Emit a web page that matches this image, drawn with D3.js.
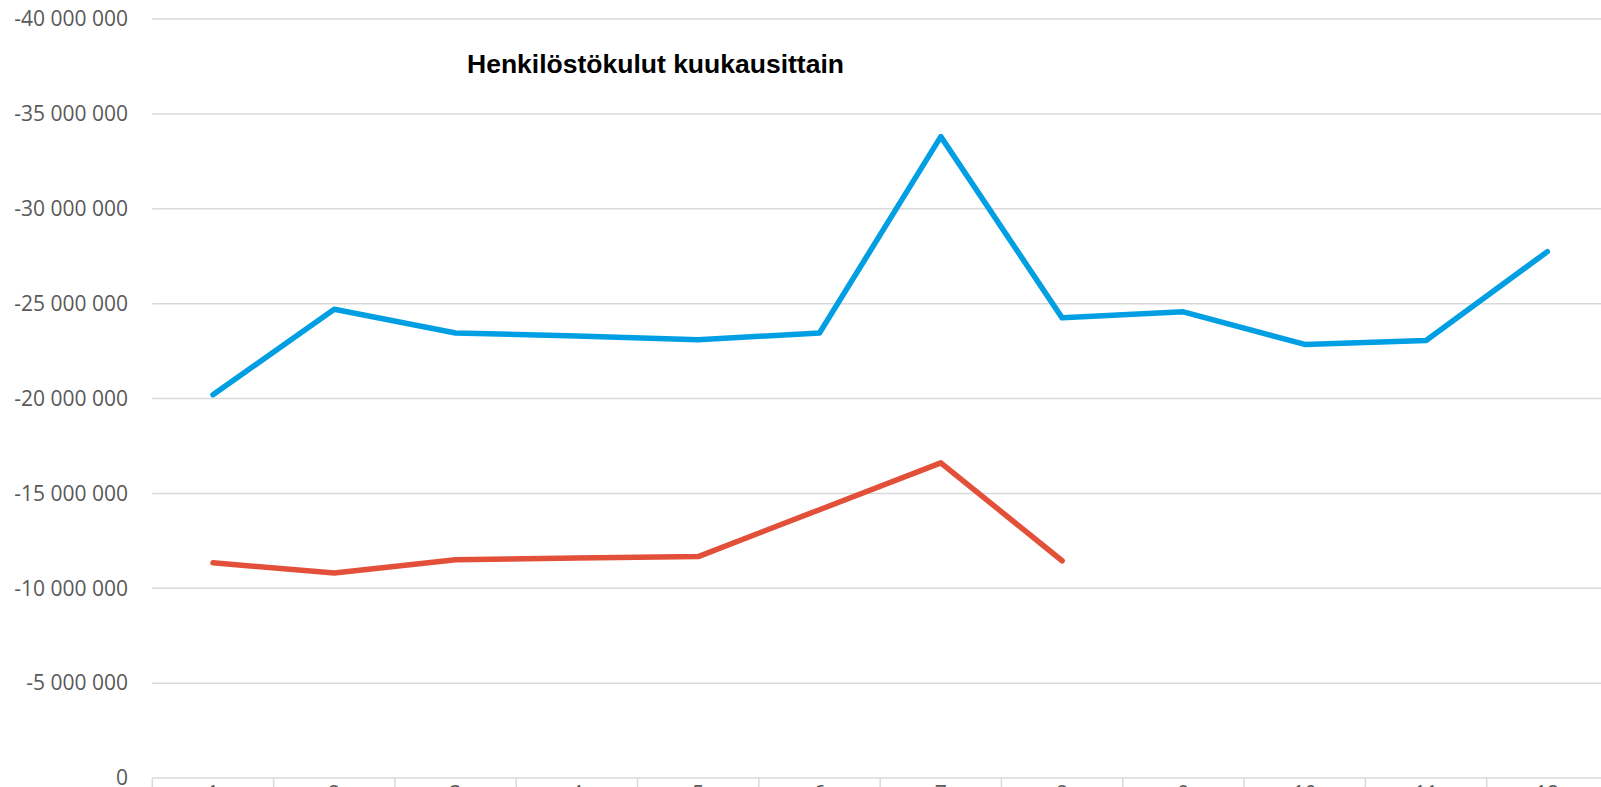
<!DOCTYPE html>
<html>
<head>
<meta charset="utf-8">
<script src="https://cdn.jsdelivr.net/npm/d3@7"></script>
<style>
  body { margin: 0; background: #fff; overflow: hidden; }
  svg { display: block; }
</style>
</head>
<body>
<div id="chart"></div>
<script>
const months = ['1', '2', '3', '4', '5', '6', '7', '8', '9', '10', '11', '12'];
const blueValues = [-20200000, -24700000, -23450000, -23300000, -23100000, -23450000,
                    -33800000, -24250000, -24570000, -22850000, -23060000, -27740000];
const redValues = [-11340000, -10800000, -11500000, -11600000, -11670000, -14140000,
                   -16610000, -11450000];
const yTicks = [0, -5000000, -10000000, -15000000, -20000000, -25000000,
                -30000000, -35000000, -40000000];
const title = 'Henkilöstökulut kuukausittain';

const width = 1601, height = 787;
const plot = { left: 152.3, right: 1608, top: 19, bottom: 778 };

const svg = d3.select('#chart').append('svg')
    .attr('width', width)
    .attr('height', height);

const x = d3.scaleBand()
    .domain(months)
    .range([plot.left, plot.right]);

const y = d3.scaleLinear()
    .domain([0, -40000000])
    .range([plot.bottom, plot.top]);

const fmt = v => v === 0 ? '0' : d3.format(',')(v).replace(/,/g, ' ').replace('−', '-');

// gridlines
svg.append('g')
    .selectAll('line')
    .data(yTicks)
    .enter()
    .append('line')
    .attr('x1', plot.left)
    .attr('x2', width)
    .attr('y1', d => y(d))
    .attr('y2', d => y(d))
    .attr('stroke', '#d9d9d9')
    .attr('stroke-width', 1.5);

// y labels
svg.append('g')
    .selectAll('text')
    .data(yTicks)
    .enter()
    .append('text')
    .attr('x', 128)
    .attr('y', d => y(d))
    .attr('dy', '0.35em')
    .attr('text-anchor', 'end')
    .attr('font-family', 'Open Sans, sans-serif')
    .attr('font-size', 21)
    .attr('fill', '#595959')
    .text(d => fmt(d));

// category tick marks
const bounds = months.map(m => x(m)).concat([plot.right]);
svg.append('g')
    .selectAll('line')
    .data(bounds)
    .enter()
    .append('line')
    .attr('x1', d => d)
    .attr('x2', d => d)
    .attr('y1', plot.bottom)
    .attr('y2', height)
    .attr('stroke', '#d9d9d9')
    .attr('stroke-width', 1.5);

// x labels (mostly cut off by the frame)
svg.append('g')
    .selectAll('text')
    .data(months)
    .enter()
    .append('text')
    .attr('x', d => x(d) + x.bandwidth() / 2)
    .attr('y', 801)
    .attr('text-anchor', 'middle')
    .attr('font-family', 'Open Sans, sans-serif')
    .attr('font-size', 21)
    .attr('fill', '#595959')
    .text(d => d);

const line = d3.line()
    .x((d, i) => x(months[i]) + x.bandwidth() / 2)
    .y(d => y(d));

svg.append('path')
    .datum(blueValues)
    .attr('fill', 'none')
    .attr('stroke', '#009fe3')
    .attr('stroke-width', 5.5)
    .attr('stroke-linecap', 'round')
    .attr('stroke-linejoin', 'round')
    .attr('d', line);

svg.append('path')
    .datum(redValues)
    .attr('fill', 'none')
    .attr('stroke', '#e2503a')
    .attr('stroke-width', 5.5)
    .attr('stroke-linecap', 'round')
    .attr('stroke-linejoin', 'round')
    .attr('d', line);

svg.append('text')
    .attr('x', 467)
    .attr('y', 73)
    .attr('font-family', 'Liberation Sans, Arial, sans-serif')
    .attr('font-weight', 'bold')
    .attr('font-size', 26.5)
    .attr('fill', '#000')
    .text(title);
</script>
</body>
</html>
